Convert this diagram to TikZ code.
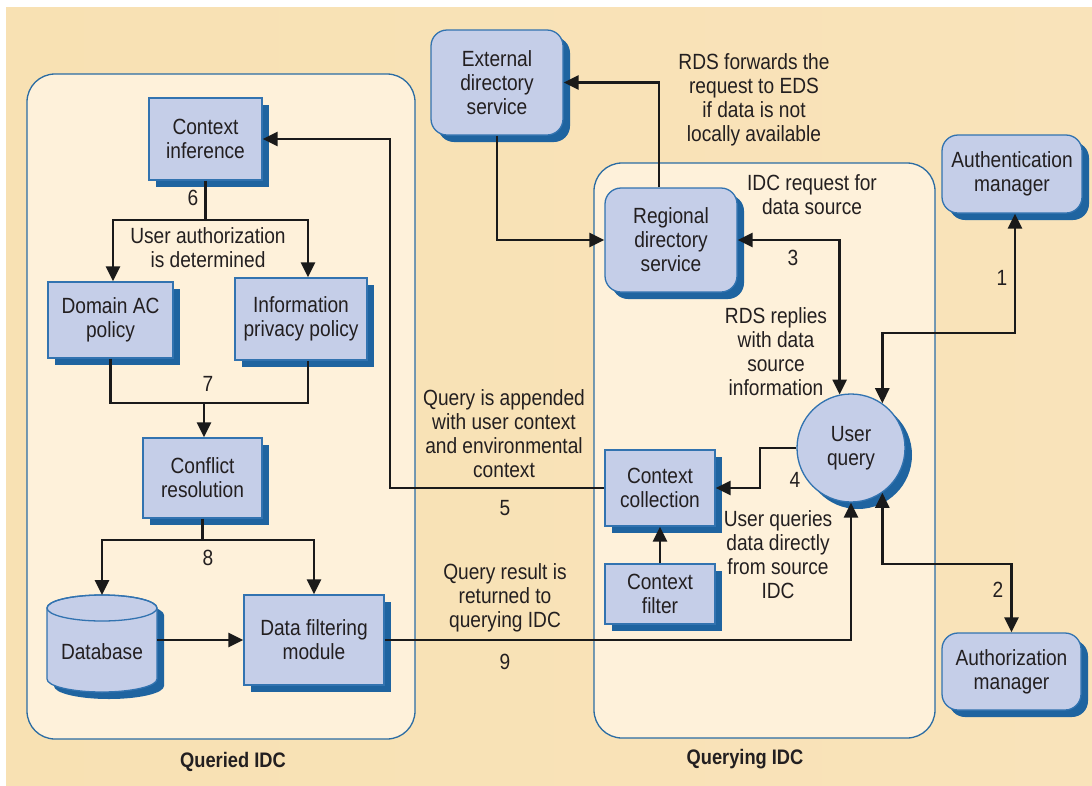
\documentclass[tikz,border=0pt]{standalone}
\usepackage{fontspec}
\setmainfont{Liberation Sans}[FakeStretch=0.87]
\usetikzlibrary{shadows,arrows.meta}

\definecolor{bgL}{HTML}{F8E1B3}
\definecolor{bgM}{HTML}{FBEED3}
\definecolor{bgR}{HTML}{F9E3BA}
\definecolor{panelfill}{HTML}{FEF1DA}
\definecolor{panelline}{HTML}{2B6CA3}
\definecolor{boxfill}{HTML}{C5CEE8}
\definecolor{boxline}{HTML}{3273B0}
\definecolor{shadowblue}{HTML}{1F64A0}
\definecolor{ink}{HTML}{1A1A1A}
\definecolor{txt}{HTML}{231F20}

\newcommand{\boxfont}{\fontsize{22}{24}\selectfont}
\newcommand{\capfont}{\fontsize{21}{24}\selectfont\bfseries}

\begin{document}
\begin{tikzpicture}[x=1pt,y=-1pt,
  box/.style={rectangle, draw=boxline, fill=boxfill, line width=1.3pt,
    text=txt, align=center, inner sep=0pt, font=\boxfont,
    general shadow={fill=shadowblue, draw=none, shadow xshift=7pt, shadow yshift=-7pt}},
  rbox/.style={box, rounded corners=16pt},
  cbox/.style={box, circle, minimum size=108pt},
  panel/.style={draw=panelline, fill=panelfill, line width=1.3pt, rounded corners=28pt},
  conn/.style={draw=ink, line width=2.6pt},
  lbl/.style={text=txt, align=center, font=\boxfont, inner sep=0pt},
  caption/.style={text=txt, font=\capfont, inner sep=0pt},
  >={Triangle[length=15pt,width=14pt]}
]
\useasboundingbox (0,0) rectangle (1092,785);

% background and the two domain panels
\shade[left color=bgL, middle color=bgM, right color=bgR] (6,7) rectangle (1092,785);
\path[panel] (27,74) rectangle (415,739);
\path[panel] (594,163) rectangle (935,738);

% database cylinder
\fill[shadowblue] (54,615) -- (54,686)
  arc[start angle=180, end angle=360, x radius=55pt, y radius=13pt]
  -- (164,615) arc[start angle=0, end angle=180, x radius=55pt, y radius=13pt] -- cycle;
\filldraw[fill=boxfill, draw=boxline, line width=1.3pt] (47,608) -- (47,679)
  arc[start angle=180, end angle=360, x radius=55pt, y radius=13pt]
  -- (157,608) arc[start angle=0, end angle=180, x radius=55pt, y radius=13pt] -- cycle;
\draw[boxline, line width=1.3pt] (102,608) ellipse[x radius=55pt, y radius=13pt];

% nodes
\node[box, minimum width=113pt, minimum height=82pt] (ci) at (205.5,139) {Context\\inference};
\node[box, minimum width=125pt, minimum height=76pt] (dac) at (110.5,320) {Domain AC\\policy};
\node[box, minimum width=132pt, minimum height=82pt] (ipp) at (301,319) {Information\\privacy policy};
\node[box, minimum width=119pt, minimum height=80pt] (cr) at (202.5,478) {Conflict\\resolution};
\node[lbl, minimum width=110pt, minimum height=84pt] (db) at (102,652) {Database};
\node[box, minimum width=140pt, minimum height=90pt] (dfm) at (314,640) {Data filtering\\module};
\node[rbox, minimum width=132pt, minimum height=105pt] (eds) at (497,82.5) {External\\directory\\service};
\node[rbox, minimum width=132pt, minimum height=104pt] (rds) at (671,240) {Regional\\directory\\service};
\node[box, minimum width=110pt, minimum height=76pt] (cc) at (660,488) {Context\\collection};
\node[box, minimum width=110pt, minimum height=60pt] (cf) at (660,594) {Context\\filter};
\node[rbox, minimum width=140pt, minimum height=78pt] (am) at (1012,174) {Authentication\\manager};
\node[rbox, minimum width=139pt, minimum height=77pt] (azm) at (1011.5,671.5) {Authorization\\manager};
\node[cbox] (uq) at (851,448) {User\\query};

% junctions and bends
\coordinate (j6) at (205.5,220);
\coordinate (j7) at (204,403);
\coordinate (j8) at (202.5,540);
\coordinate (b5) at (390,488);
\coordinate (k1) at (1015,333);
\coordinate (k2) at (1011.5,564);
\coordinate (k4) at (760,448);

% queried IDC flow
\draw[conn] (ci.south) -- (j6);
\draw[conn,->] (j6) -| ([xshift=2.5pt]dac.north);
\draw[conn,->] (j6) -| ([xshift=7pt]ipp.north);
\draw[conn] (dac.south) |- (j7) -| ([xshift=7pt]ipp.south);
\draw[conn,->] (j7) -- (cr.north -| j7);
\draw[conn] (cr.south) -- (j8);
\draw[conn,->] (j8) -| (db.north |- 0,595);
\draw[conn,->] (j8) -| (dfm.north);
\draw[conn,->] (157,640) -- (dfm.west);

% cross-domain flows
\draw[conn,->] (cc.west) -- (b5) |- (ci.east);
\draw[conn,->] (dfm.east) -| (uq.south);
\draw[conn,->] ([xshift=-12pt]rds.north) |- (eds.east);
\draw[conn,->] (eds.south) |- (rds.west);
\draw[conn,<->] (rds.east) -| (uq.102);
\draw[conn,<->] ([xshift=3pt]am.south) -- (k1) -| (uq.55);
\draw[conn,<->] (uq.305) |- (k2) -- (azm.north);
\draw[conn,->] (uq.west) -- (k4) |- (cc.east);
\draw[conn,->] (cf.north) -- (cc.south);

% labels
\node[lbl] at (193,198) {6};
\node[lbl] at (208,248) {User authorization\\is determined};
\node[lbl] at (208,384) {7};
\node[lbl] at (208,558) {8};
\node[lbl] at (504,434) {Query is appended\\with user context\\and environmental\\context};
\node[lbl] at (505,508) {5};
\node[lbl] at (505,598) {Query result is\\returned to\\querying IDC};
\node[lbl] at (505,662) {9};
\node[lbl] at (754,100) {RDS forwards the\\request to EDS\\if data is not\\locally available};
\node[lbl] at (812,195) {IDC request for\\data source};
\node[lbl] at (793,258) {3};
\node[lbl] at (776,352) {RDS replies\\with data\\source\\information};
\node[lbl] at (795,480) {4};
\node[lbl] at (778,555) {User queries\\data directly\\from source\\IDC};
\node[lbl] at (1002,278) {1};
\node[lbl] at (998,590) {2};
\node[caption] at (233,762) {Queried IDC};
\node[caption] at (745,759) {Querying IDC};
\end{tikzpicture}
\end{document}
